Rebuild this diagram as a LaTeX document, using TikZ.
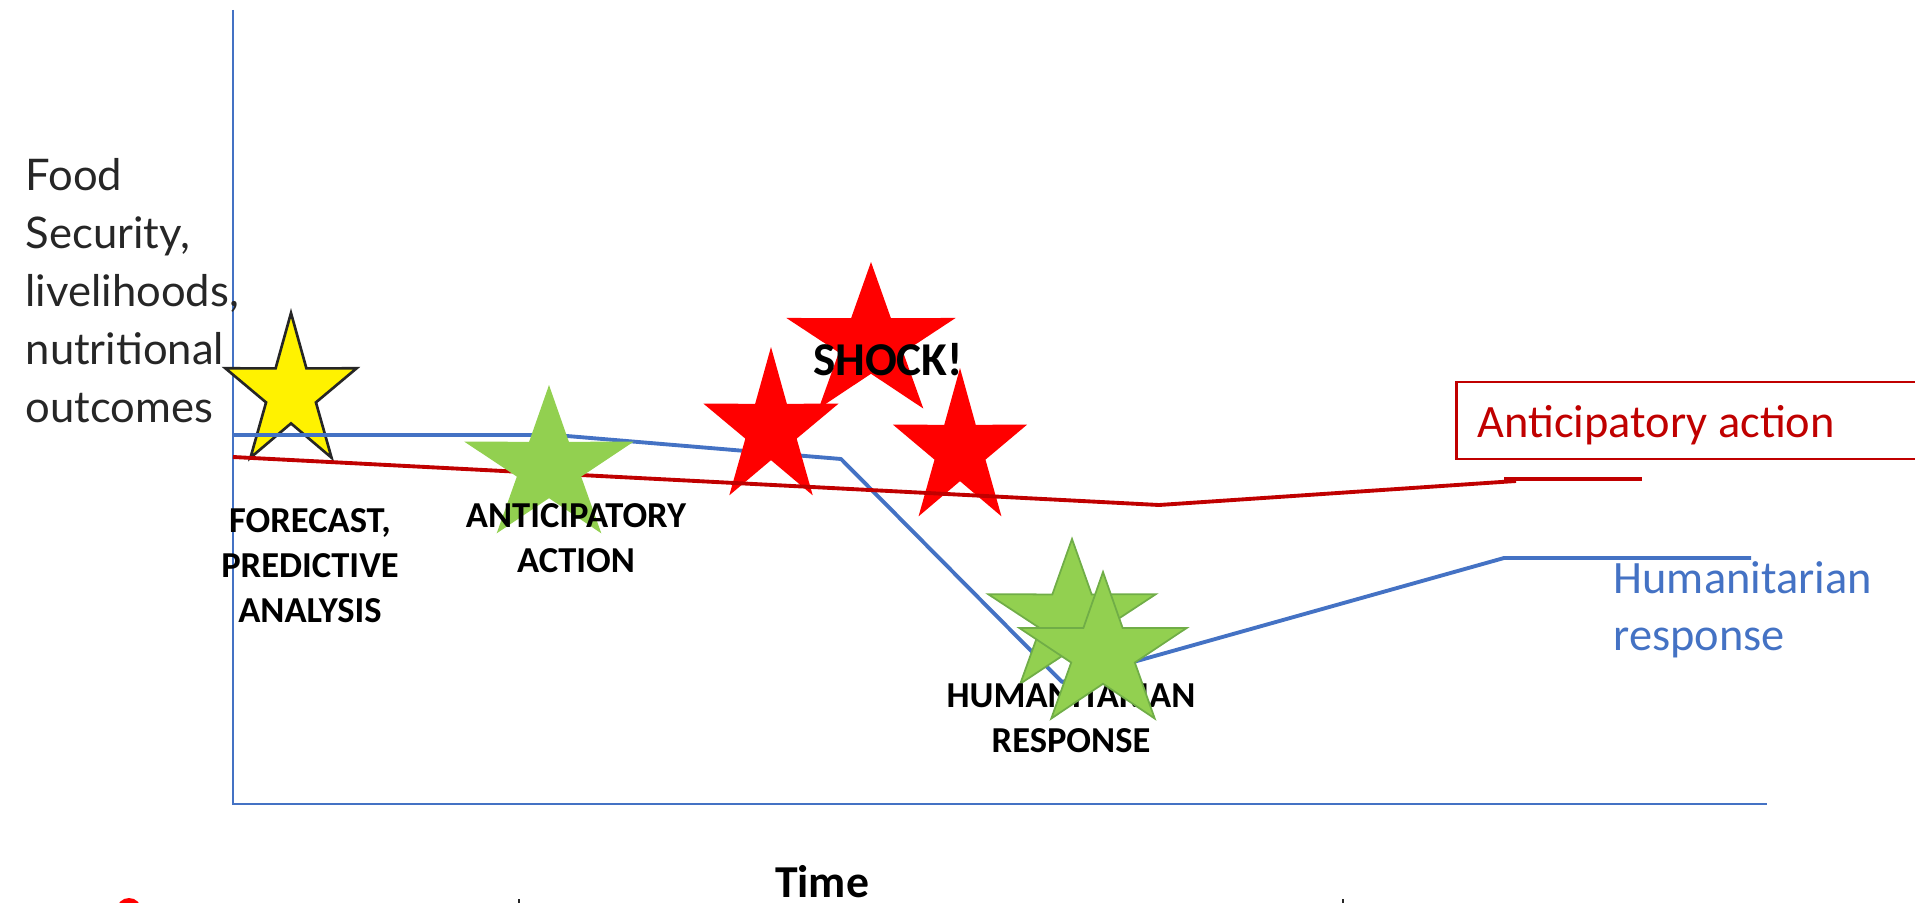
\documentclass[tikz,border=0pt]{standalone}
\usepackage{fontspec}
\setmainfont{Carlito}
\newfontfamily\axisfont{Lato}

\definecolor{hrblue}{HTML}{4472C4}
\definecolor{aared}{HTML}{C00000}
\definecolor{shockred}{HTML}{FF0000}
\definecolor{leafgreen}{HTML}{92D050}
\definecolor{leafedge}{HTML}{70AD47}
\definecolor{inkgray}{HTML}{262626}

\tikzset{
    % five-pointed star, x and y outer radius
    pics/fivestar/.style args={#1/#2}{code={
        \path[pic actions] (270:#1 and #2)
            \foreach \k in {0,...,4}{
                -- ({306+72*\k}:{0.38*#1} and {0.38*#2})
                -- ({342+72*\k}:#1 and #2)
            } -- cycle;
    }},
    axisline/.style={draw=hrblue, line width=0.45pt},
    hrline/.style={draw=hrblue, line width=1.1pt, line join=round},
    aaline/.style={draw=aared, line width=1.1pt, line join=round},
    stagelabel/.style={font=\bfseries\fontsize{10.4pt}{12.7pt}\selectfont,
        align=center, inner sep=0, anchor=base},
    keylabel/.style={font=\fontsize{13.2pt}{16.2pt}\selectfont,
        align=left, inner sep=0, anchor=base west},
}

\begin{document}
\begin{tikzpicture}[x=0.1mm, y=-0.1mm]
    \useasboundingbox (0, 0) rectangle (1915, 903);

    % axes (multi-line nodes sit on the baseline of their last line)
    \draw[axisline] (233, 10) -- (233, 804) -- (1767, 804);
    \node[inner sep=0, anchor=base west, align=left, text=inkgray,
        font=\axisfont\fontsize{12.4pt}{16.5pt}\selectfont] (ylabel) at (25, 422)
        {Food\\Security,\\livelihoods,\\nutritional\\outcomes};
    \node[inner sep=0, anchor=base, font=\bfseries\fontsize{13pt}{15pt}\selectfont]
        (xlabel) at (822, 897) {Time};
    \draw[inkgray, line width=0.45pt] (519, 899) -- (519, 915);
    \draw[inkgray, line width=0.45pt] (1343, 899) -- (1343, 915);
    \fill[shockred] (129, 910.5) circle (12.5);

    % forecast
    \pic[fill=yellow, draw=inkgray, line width=0.75pt, line join=miter] at (291, 393) {fivestar=69/80};

    % humanitarian response path
    \draw[hrline] (233, 435) -- (555, 435) -- (841, 459) -- (1062, 682)
        -- (1504, 558) -- (1751, 558);

    % the shock
    \pic[fill=shockred] at (771, 429) {fivestar=71/82};
    \pic[fill=shockred] at (871, 343) {fivestar=89/81};
    \pic[fill=shockred] at (960, 450) {fivestar=70.5/82};

    % anticipatory action path
    \draw[aaline] (233, 457) -- (1159, 505) -- (1516, 481);
    \draw[aaline] (1504, 479) -- (1642, 479);

    \pic[fill=leafgreen] at (549, 467) {fivestar=89/82};
    \pic[fill=leafgreen, draw=leafedge, line width=0.5pt] at (1072, 619) {fivestar=88/80};

    % stage labels
    \node[stagelabel] (forecast) at (310, 622) {FORECAST,\\PREDICTIVE\\ANALYSIS};
    \node[stagelabel] (anticip) at (576, 572) {ANTICIPATORY\\ACTION};
    \node[stagelabel, font=\bfseries\fontsize{13.4pt}{15pt}\selectfont] (shock) at (888, 375) {SHOCK!};
    \node[stagelabel] (human) at (1071, 752) {HUMANITARIAN\\RESPONSE};

    \pic[fill=leafgreen, draw=leafedge, line width=0.5pt] at (1103, 653) {fivestar=88/81};

    % key
    \draw[aared, line width=0.85pt] (1456, 382) rectangle (1935, 459);
    \node[keylabel, text=aared] (aakey) at (1477, 437) {Anticipatory action};
    \node[keylabel, text=hrblue] (hrkey) at (1613, 650) {Humanitarian\\response};
\end{tikzpicture}
\end{document}
